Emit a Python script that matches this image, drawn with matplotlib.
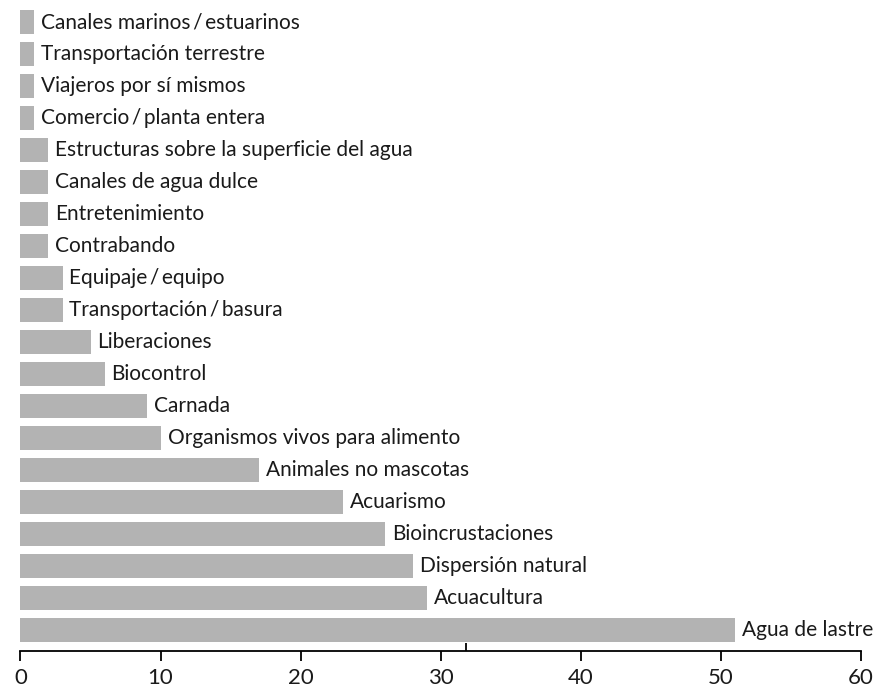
import matplotlib.pyplot as plt

categories = ["Canales marinos\u2009/\u2009estuarinos", "Transportación terrestre", "Viajeros por sí mismos",
              "Comercio\u2009/\u2009planta entera", "Estructuras sobre la superficie del agua",
              "Canales de agua dulce", "Entretenimiento", "Contrabando", "Equipaje\u2009/\u2009equipo",
              "Transportación\u2009/\u2009basura", "Liberaciones", "Biocontrol", "Carnada",
              "Organismos vivos para alimento", "Animales no mascotas", "Acuarismo",
              "Bioincrustaciones", "Dispersión natural", "Acuacultura", "Agua de lastre"]
values = [1, 1, 1, 1, 2, 2, 2, 2, 3, 3, 5, 6, 9, 10, 17, 23, 26, 28, 29, 51]
xticks = [0, 10, 20, 30, 40, 50, 60]

fig = plt.figure(figsize=(8.79, 6.95), dpi=100)
ax = fig.add_axes([0.0233, 0.0633, 0.9562, 0.9367])

pos = list(range(len(categories)))
ax.barh(pos, values, height=0.75, color="#b3b3b3", edgecolor="none")
for p, v, name in zip(pos, values, categories):
    ax.annotate(name, xy=(v, p), xytext=(5, 0), textcoords="offset points",
                va="center", ha="left", fontsize=15, family=["Lato", "DejaVu Sans"],
                color="#1a1a1a")

ax.set_xlim(0, 60)
ax.set_ylim(19.66, -0.69)
ax.set_xticks(xticks)
ax.set_xticklabels([str(t) for t in xticks], fontsize=16,
                   family=["Lato", "DejaVu Sans"], color="#1a1a1a")
ax.set_xticks([31.8], minor=True)
ax.tick_params(axis="x", which="major", direction="out", length=7.5, width=1.3, pad=5)
ax.tick_params(axis="x", which="minor", direction="in", length=6, width=1.3)
ax.set_yticks([])
for s in ["top", "right", "left"]:
    ax.spines[s].set_visible(False)
ax.spines["bottom"].set_linewidth(1.3)

fig.savefig("out.png", dpi=100)
